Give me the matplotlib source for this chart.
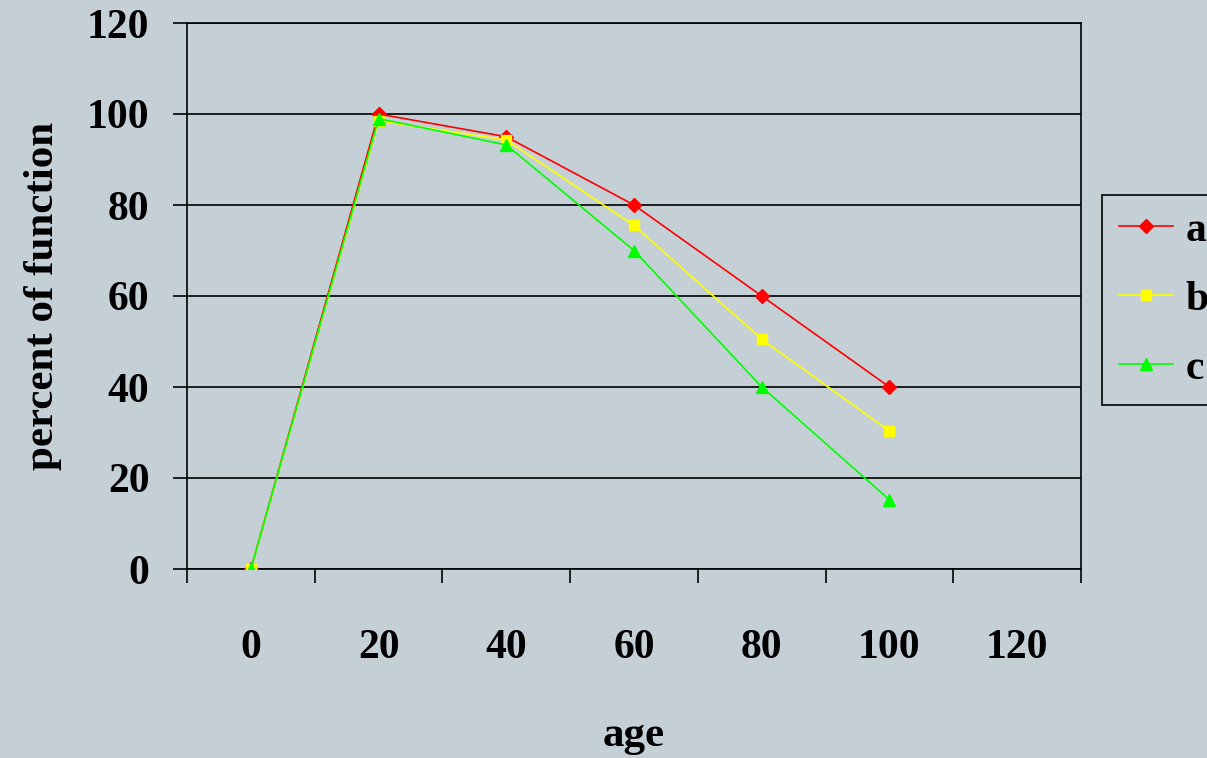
import numpy as np
import matplotlib.pyplot as plt
from matplotlib.ticker import FixedLocator, NullFormatter

ages = ['0', '20', '40', '60', '80', '100', '120']
a_vals = [0, 100, 95, 80, 60, 40]
b_vals = [0, 98.5, 94.3, 75.5, 50.5, 30.3]
c_vals = [0, 99, 93.2, 70, 40, 15.2]
y_ticks = [0, 20, 40, 60, 80, 100, 120]

bg = '#c5d0d6'
plt.rcParams['font.family'] = ['Liberation Serif', 'DejaVu Serif']
plt.rcParams['font.weight'] = 'bold'

fig = plt.figure(figsize=(12.07, 7.58), dpi=100, facecolor=bg)
ax = fig.add_axes([187 / 1207, 1 - 569 / 758, 894 / 1207, 546 / 758])
ax.set_facecolor(bg)

x = np.arange(len(a_vals))
ax.plot(x, a_vals, color='#ff0000', lw=1.2, marker='D', ms=7, label='a', zorder=3)
ax.plot(x, b_vals, color='#ffff00', lw=1.2, marker='s', ms=7, label='b', zorder=4)
ax.plot(x, c_vals, color='#00ff00', lw=1.2, marker='^', ms=8, label='c', zorder=5)

ax.set_xlim(-0.5, len(ages) - 0.5)
ax.set_ylim(0, 120)
ax.set_yticks(y_ticks)
ax.set_yticklabels([str(v) for v in y_ticks])
ax.yaxis.grid(True, color='black', lw=1.2)
ax.set_axisbelow(True)

ax.xaxis.set_major_locator(FixedLocator(np.arange(len(ages) + 1) - 0.5))
ax.xaxis.set_major_formatter(NullFormatter())
ax.xaxis.set_minor_locator(FixedLocator(np.arange(len(ages))))
ax.set_xticklabels(ages, minor=True)
ax.tick_params(axis='x', which='major', length=10, width=1.2, direction='out')
ax.tick_params(axis='x', which='minor', length=0, pad=43, labelsize=30)
ax.tick_params(axis='y', length=10, width=1.2, direction='out', pad=17, labelsize=30)

for s in ax.spines.values():
    s.set_color('black')
    s.set_linewidth(1.2)

ax.set_xlabel('age', fontsize=31, fontweight='bold', labelpad=36)
ax.set_ylabel('percent of function', fontsize=31, fontweight='bold', labelpad=18)

leg = fig.legend(loc='upper left', bbox_to_anchor=(1102 / 1207, 1 - 195 / 758),
                 fontsize=30, frameon=True, fancybox=False, edgecolor='black',
                 facecolor=bg, framealpha=1, handlelength=1.3, labelspacing=0.74,
                 borderpad=0.4, handletextpad=0.3, borderaxespad=0)
leg.get_frame().set_linewidth(1.2)

fig.savefig('out.png', dpi=100, facecolor=bg)
